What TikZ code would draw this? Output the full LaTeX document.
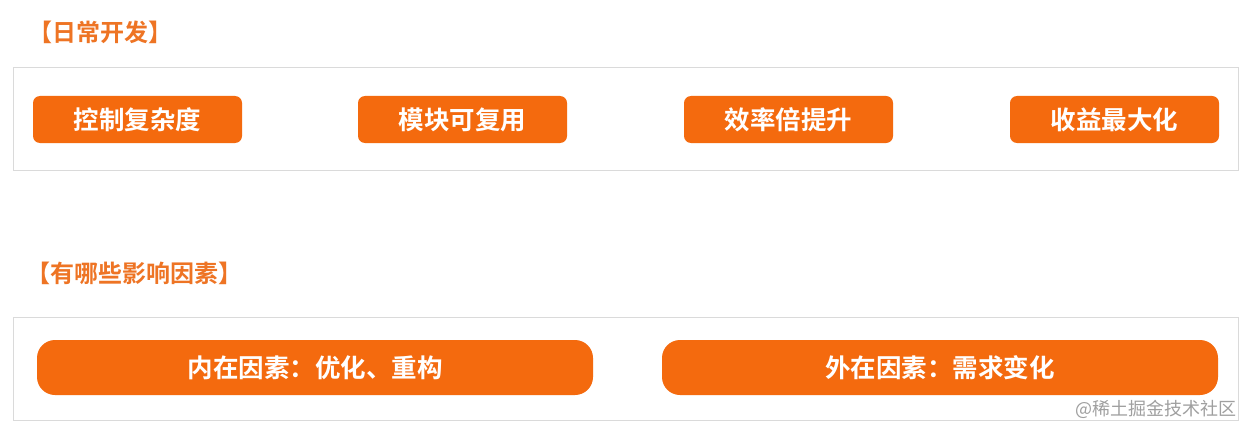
\documentclass[tikz,border=0pt]{standalone}
\usepackage{fontspec}
\newfontfamily\cjk{Noto Sans CJK SC}[BoldFont={Noto Sans CJK SC Bold}]
\definecolor{orng}{HTML}{F46A0E}
\definecolor{ttl}{HTML}{EE7424}
\definecolor{frame}{HTML}{DADADA}
\begin{document}
\begin{tikzpicture}[x=1pt,y=-1pt,
  panel/.style={draw=frame,line width=1pt,fill=white},
  btn/.style={fill=orng,rounded corners=7pt},
  wbtn/.style={fill=orng,rounded corners=18pt},
  lbl/.style={text=white,font=\cjk\bfseries\fontsize{25.5}{26}\selectfont,inner sep=0pt},
  title/.style={text=ttl,font=\cjk\bfseries\fontsize{24}{24}\selectfont,anchor=west,inner sep=0pt}]
\useasboundingbox (0,0) rectangle (1246,425);
\fill[white] (0,0) rectangle (1246,425);
\node[title] (t1) at (28,32) {【日常开发】};
\draw[panel] (13,68) rectangle (1238,170);
\path[btn] (33,96) rectangle (242,143);
\node[lbl] (b1) at (137.5,120) {控制复杂度};
\path[btn] (358,96) rectangle (567,143);
\node[lbl] (b2) at (462.5,120) {模块可复用};
\path[btn] (684,96) rectangle (893,143);
\node[lbl] (b3) at (788.5,120) {效率倍提升};
\path[btn] (1010,96) rectangle (1219,143);
\node[lbl] (b4) at (1114.5,120) {收益最大化};
\node[title] (t2) at (26,273) {【有哪些影响因素】};
\draw[panel] (13,317) rectangle (1238,420);
\path[wbtn] (37,340) rectangle (593,395);
\node[lbl] (w1) at (315,368) {内在因素：优化、重构};
\path[wbtn] (662,340) rectangle (1218,395);
\node[lbl] (w2) at (940,368) {外在因素：需求变化};
\node[text=gray!75,font=\cjk\fontsize{18}{18}\selectfont,anchor=east,inner sep=0pt] (wm) at (1237,409) {@稀土掘金技术社区};
\end{tikzpicture}
\end{document}
